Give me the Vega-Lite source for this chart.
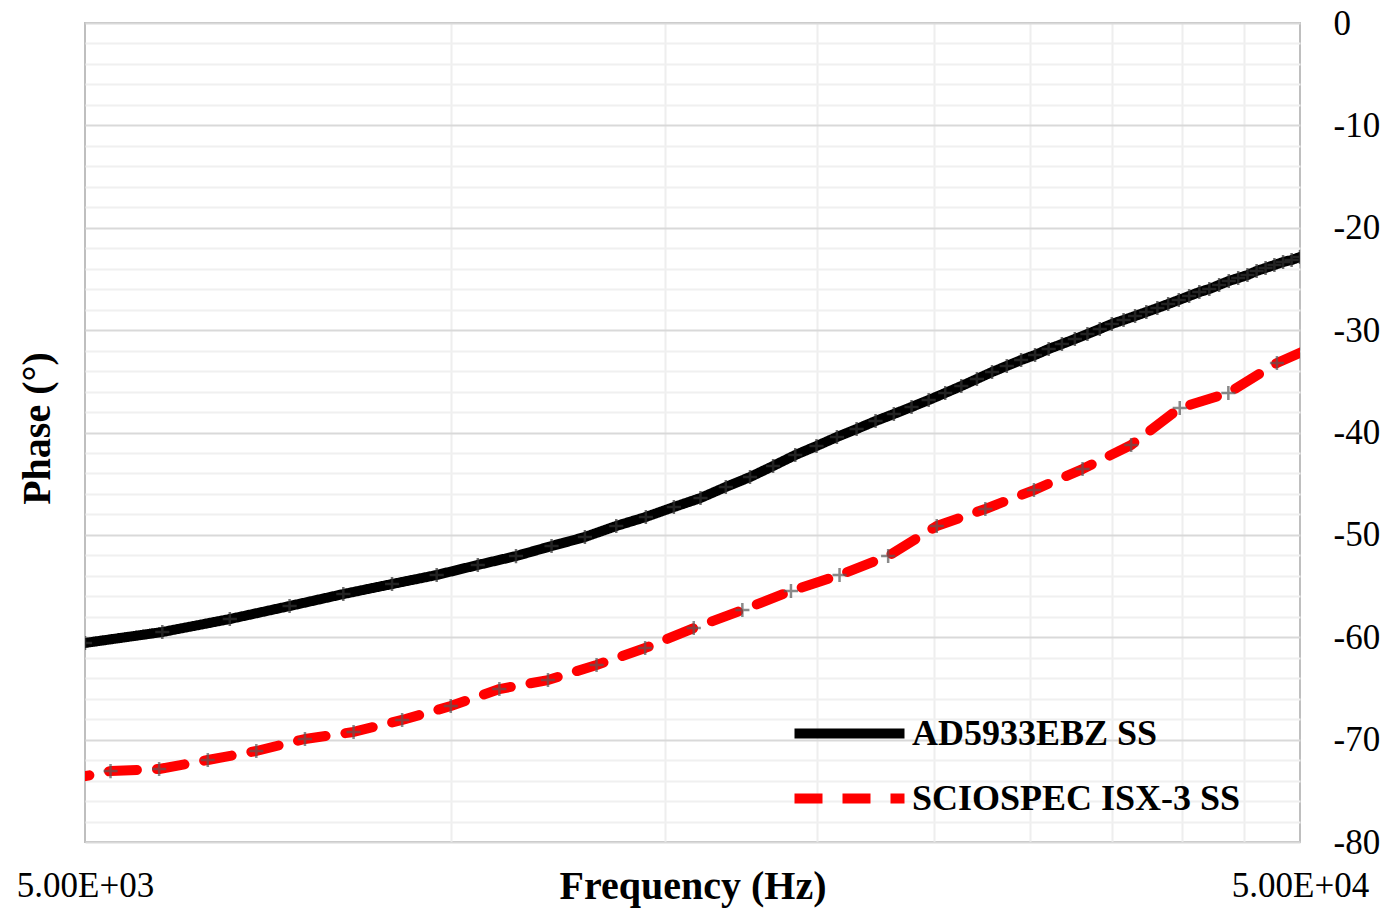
{
  "$schema": "https://vega.github.io/schema/vega-lite/v6.json",
  "width": 1215,
  "height": 819,
  "autosize": {"type": "none"},
  "padding": {"left": 85, "top": 23, "right": 87, "bottom": 66},
  "background": "white",
  "config": {
    "view": {"stroke": "#bfbfbf", "strokeWidth": 2},
    "font": "Liberation Serif",
    "axis": {"labelFont": "Liberation Serif", "titleFont": "Liberation Serif", "labelColor": "#000000", "titleColor": "#000000"}
  },
  "data": {
    "values": [
      {"series": "AD5933EBZ SS", "freq": 5000, "phase": -60.56},
      {"series": "AD5933EBZ SS", "freq": 5789, "phase": -59.49},
      {"series": "AD5933EBZ SS", "freq": 6579, "phase": -58.22},
      {"series": "AD5933EBZ SS", "freq": 7368, "phase": -56.95},
      {"series": "AD5933EBZ SS", "freq": 8158, "phase": -55.78},
      {"series": "AD5933EBZ SS", "freq": 8947, "phase": -54.80},
      {"series": "AD5933EBZ SS", "freq": 9737, "phase": -53.92},
      {"series": "AD5933EBZ SS", "freq": 10526, "phase": -52.94},
      {"series": "AD5933EBZ SS", "freq": 11316, "phase": -52.07},
      {"series": "AD5933EBZ SS", "freq": 12105, "phase": -51.09},
      {"series": "AD5933EBZ SS", "freq": 12895, "phase": -50.21},
      {"series": "AD5933EBZ SS", "freq": 13684, "phase": -49.13},
      {"series": "AD5933EBZ SS", "freq": 14474, "phase": -48.25},
      {"series": "AD5933EBZ SS", "freq": 15263, "phase": -47.28},
      {"series": "AD5933EBZ SS", "freq": 16053, "phase": -46.40},
      {"series": "AD5933EBZ SS", "freq": 16842, "phase": -45.32},
      {"series": "AD5933EBZ SS", "freq": 17632, "phase": -44.35},
      {"series": "AD5933EBZ SS", "freq": 18421, "phase": -43.27},
      {"series": "AD5933EBZ SS", "freq": 19211, "phase": -42.20},
      {"series": "AD5933EBZ SS", "freq": 20000, "phase": -41.32},
      {"series": "AD5933EBZ SS", "freq": 20789, "phase": -40.44},
      {"series": "AD5933EBZ SS", "freq": 21579, "phase": -39.66},
      {"series": "AD5933EBZ SS", "freq": 22368, "phase": -38.88},
      {"series": "AD5933EBZ SS", "freq": 23158, "phase": -38.19},
      {"series": "AD5933EBZ SS", "freq": 23947, "phase": -37.51},
      {"series": "AD5933EBZ SS", "freq": 24737, "phase": -36.83},
      {"series": "AD5933EBZ SS", "freq": 25526, "phase": -36.14},
      {"series": "AD5933EBZ SS", "freq": 26316, "phase": -35.46},
      {"series": "AD5933EBZ SS", "freq": 27105, "phase": -34.77},
      {"series": "AD5933EBZ SS", "freq": 27895, "phase": -34.09},
      {"series": "AD5933EBZ SS", "freq": 28684, "phase": -33.50},
      {"series": "AD5933EBZ SS", "freq": 29474, "phase": -32.92},
      {"series": "AD5933EBZ SS", "freq": 30263, "phase": -32.43},
      {"series": "AD5933EBZ SS", "freq": 31053, "phase": -31.84},
      {"series": "AD5933EBZ SS", "freq": 31842, "phase": -31.36},
      {"series": "AD5933EBZ SS", "freq": 32632, "phase": -30.87},
      {"series": "AD5933EBZ SS", "freq": 33421, "phase": -30.38},
      {"series": "AD5933EBZ SS", "freq": 34211, "phase": -29.89},
      {"series": "AD5933EBZ SS", "freq": 35000, "phase": -29.40},
      {"series": "AD5933EBZ SS", "freq": 35789, "phase": -29.01},
      {"series": "AD5933EBZ SS", "freq": 36579, "phase": -28.62},
      {"series": "AD5933EBZ SS", "freq": 37368, "phase": -28.23},
      {"series": "AD5933EBZ SS", "freq": 38158, "phase": -27.84},
      {"series": "AD5933EBZ SS", "freq": 38947, "phase": -27.45},
      {"series": "AD5933EBZ SS", "freq": 39737, "phase": -27.06},
      {"series": "AD5933EBZ SS", "freq": 40526, "phase": -26.67},
      {"series": "AD5933EBZ SS", "freq": 41316, "phase": -26.28},
      {"series": "AD5933EBZ SS", "freq": 42105, "phase": -25.98},
      {"series": "AD5933EBZ SS", "freq": 42895, "phase": -25.59},
      {"series": "AD5933EBZ SS", "freq": 43684, "phase": -25.20},
      {"series": "AD5933EBZ SS", "freq": 44474, "phase": -24.91},
      {"series": "AD5933EBZ SS", "freq": 45263, "phase": -24.62},
      {"series": "AD5933EBZ SS", "freq": 46053, "phase": -24.22},
      {"series": "AD5933EBZ SS", "freq": 46842, "phase": -23.93},
      {"series": "AD5933EBZ SS", "freq": 47632, "phase": -23.64},
      {"series": "AD5933EBZ SS", "freq": 48421, "phase": -23.35},
      {"series": "AD5933EBZ SS", "freq": 49211, "phase": -23.15},
      {"series": "AD5933EBZ SS", "freq": 50000, "phase": -22.86},
      {"series": "SCIOSPEC ISX-3 SS", "freq": 4786, "phase": -74.02},
      {"series": "SCIOSPEC ISX-3 SS", "freq": 5248, "phase": -73.07},
      {"series": "SCIOSPEC ISX-3 SS", "freq": 5754, "phase": -72.87},
      {"series": "SCIOSPEC ISX-3 SS", "freq": 6310, "phase": -71.99},
      {"series": "SCIOSPEC ISX-3 SS", "freq": 6918, "phase": -71.11},
      {"series": "SCIOSPEC ISX-3 SS", "freq": 7586, "phase": -69.94},
      {"series": "SCIOSPEC ISX-3 SS", "freq": 8318, "phase": -69.25},
      {"series": "SCIOSPEC ISX-3 SS", "freq": 9120, "phase": -68.08},
      {"series": "SCIOSPEC ISX-3 SS", "freq": 10000, "phase": -66.72},
      {"series": "SCIOSPEC ISX-3 SS", "freq": 10965, "phase": -65.06},
      {"series": "SCIOSPEC ISX-3 SS", "freq": 12023, "phase": -64.18},
      {"series": "SCIOSPEC ISX-3 SS", "freq": 13183, "phase": -62.71},
      {"series": "SCIOSPEC ISX-3 SS", "freq": 14454, "phase": -61.05},
      {"series": "SCIOSPEC ISX-3 SS", "freq": 15849, "phase": -59.10},
      {"series": "SCIOSPEC ISX-3 SS", "freq": 17378, "phase": -57.34},
      {"series": "SCIOSPEC ISX-3 SS", "freq": 19055, "phase": -55.48},
      {"series": "SCIOSPEC ISX-3 SS", "freq": 20893, "phase": -53.92},
      {"series": "SCIOSPEC ISX-3 SS", "freq": 22909, "phase": -52.06},
      {"series": "SCIOSPEC ISX-3 SS", "freq": 25119, "phase": -49.13},
      {"series": "SCIOSPEC ISX-3 SS", "freq": 27542, "phase": -47.47},
      {"series": "SCIOSPEC ISX-3 SS", "freq": 30200, "phase": -45.62},
      {"series": "SCIOSPEC ISX-3 SS", "freq": 33113, "phase": -43.57},
      {"series": "SCIOSPEC ISX-3 SS", "freq": 36308, "phase": -41.22},
      {"series": "SCIOSPEC ISX-3 SS", "freq": 39811, "phase": -37.61},
      {"series": "SCIOSPEC ISX-3 SS", "freq": 43652, "phase": -36.14},
      {"series": "SCIOSPEC ISX-3 SS", "freq": 47863, "phase": -33.21},
      {"series": "SCIOSPEC ISX-3 SS", "freq": 52481, "phase": -31.13}
    ]
  },
  "encoding": {
    "x": {
      "field": "freq",
      "type": "quantitative",
      "scale": {"type": "log", "domain": [5000, 50000], "nice": false},
      "axis": {
        "title": "Frequency (Hz)",
        "titleFontSize": 40,
        "titleFontWeight": "bold",
        "titleBaseline": "middle",
        "titleY": 44,
        "values": [5000, 10000, 15000, 20000, 25000, 30000, 35000, 40000, 45000, 50000],
        "labelExpr": "datum.value == 5000 ? '5.00E+03' : (datum.value == 50000 ? '5.00E+04' : '')",
        "labelFontSize": 35,
        "labelBaseline": "middle",
        "labelPadding": 43,
        "labelFlush": false,
        "labelOverlap": false,
        "labelBound": false,
        "ticks": false,
        "tickSize": 0,
        "domain": false,
        "grid": true,
        "gridColor": "#eeeeee",
        "gridWidth": 2,
        "gridOpacity": {"condition": {"test": "datum.value == 5000 || datum.value == 50000", "value": 0}, "value": 1}
      }
    }
  },
  "layer": [
    {
      "mark": {"type": "line", "strokeWidth": 10, "strokeCap": "round", "strokeJoin": "round", "clip": true},
      "encoding": {
        "y": {
          "field": "phase",
          "type": "quantitative",
          "scale": {"domain": [-80, 0], "nice": false, "zero": false},
          "axis": {
            "orient": "right",
            "title": null,
            "values": [-80, -78, -76, -74, -72, -70, -68, -66, -64, -62, -60, -58, -56, -54, -52, -50, -48, -46, -44, -42, -40, -38, -36, -34, -32, -30, -28, -26, -24, -22, -20, -18, -16, -14, -12, -10, -8, -6, -4, -2, 0],
            "labelExpr": "datum.value % 10 == 0 ? '' + datum.value : ''",
            "labelFontSize": 35,
            "labelAlign": "left",
            "labelBaseline": "middle",
            "labelPadding": 33,
            "labelFlush": false,
            "labelOverlap": false,
            "labelBound": false,
            "ticks": false,
            "tickSize": 0,
            "domain": false,
            "grid": true,
            "gridWidth": 2,
            "gridColor": {"condition": {"test": "datum.value % 10 == 0", "value": "#d9d9d9"}, "value": "#f0f0f0"}
          }
        },
        "color": {
          "field": "series",
          "type": "nominal",
          "scale": {"domain": ["AD5933EBZ SS", "SCIOSPEC ISX-3 SS"], "range": ["#000000", "#ff0000"]},
          "legend": {
            "title": null,
            "orient": "none",
            "legendX": 732,
            "legendY": 678,
            "direction": "vertical",
            "padding": 0,
            "symbolType": "M-2,0L2,0",
            "symbolSize": 3025,
            "symbolStrokeWidth": 10,
            "labelFont": "Liberation Serif",
            "labelFontSize": 36,
            "labelFontWeight": "bold",
            "labelColor": "#000000",
            "labelOffset": 30,
            "labelLimit": 600,
            "rowPadding": 12
          }
        },
        "strokeDash": {
          "field": "series",
          "type": "nominal",
          "scale": {"domain": ["AD5933EBZ SS", "SCIOSPEC ISX-3 SS"], "range": [[1, 0], [28, 20]]},
          "legend": null
        }
      }
    },
    {
      "mark": {"type": "point", "shape": "M-1,0L1,0M0,-1L0,1", "filled": false, "strokeWidth": 2.5, "size": 200, "clip": true},
      "encoding": {
        "y": {
          "field": "phase",
          "type": "quantitative",
          "scale": {"domain": [-80, 0], "nice": false, "zero": false},
          "axis": {
            "orient": "left",
            "title": "Phase (°)",
            "titleFontSize": 40,
            "titleFontWeight": "bold",
            "titleX": -48,
            "titleY": 405,
            "titleAngle": -90,
            "titleAlign": "center",
            "titleBaseline": "middle",
            "labels": false,
            "ticks": false,
            "domain": false,
            "grid": false
          }
        },
        "stroke": {
          "condition": {"test": "datum.series == 'AD5933EBZ SS'", "value": "#333333"},
          "value": "#595959"
        }
      }
    }
  ],
  "resolve": {"scale": {"y": "independent"}, "axis": {"y": "independent"}}
}
